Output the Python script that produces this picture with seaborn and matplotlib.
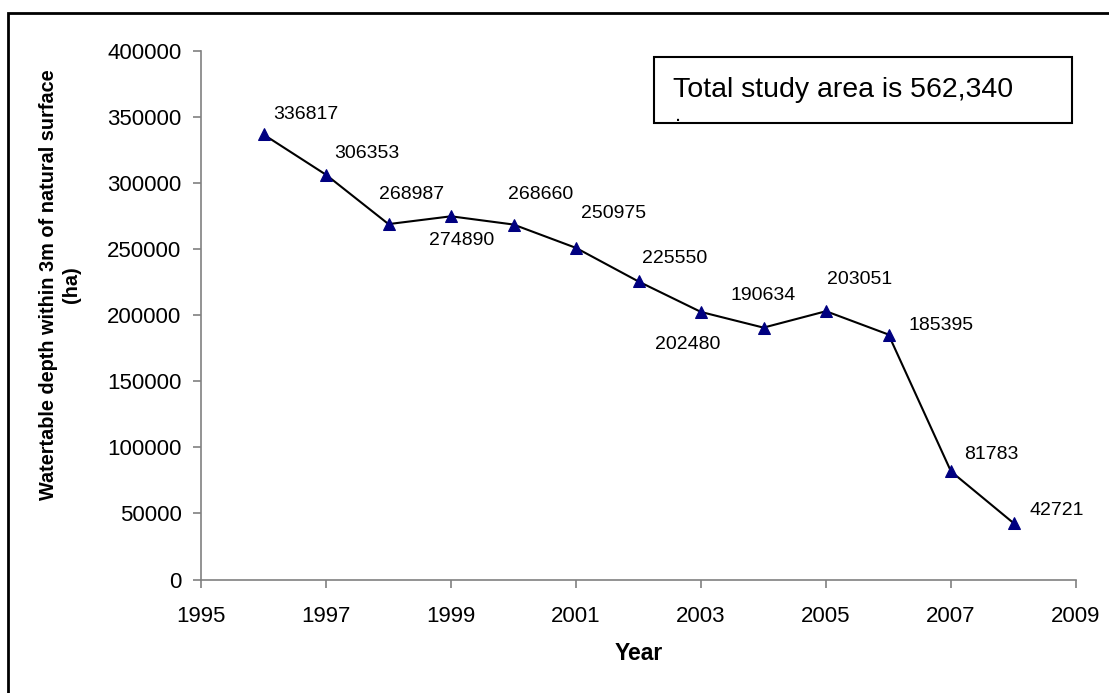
import matplotlib
matplotlib.use("Agg")
import matplotlib.pyplot as plt
import matplotlib.patches as patches
import pandas as pd
import seaborn as sns

# chart values
years = [1996, 1997, 1998, 1999, 2000, 2001, 2002, 2003, 2004, 2005, 2006, 2007, 2008]
area_ha = [336817, 306353, 268987, 274890, 268660, 250975, 225550,
           202480, 190634, 203051, 185395, 81783, 42721]
x_ticks = [1995, 1997, 1999, 2001, 2003, 2005, 2007, 2009]
y_ticks = [0, 50000, 100000, 150000, 200000, 250000, 300000, 350000, 400000]
note_text = "Total study area is 562,340"

# label offsets from each point, in pixels (right, down) to the label centre
label_offsets = [(42, -22), (41, -24), (23, -32), (11, 22), (27, -33), (38, -37),
                 (36, -25), (-13, 30), (0, -35), (34, -34), (53, -12), (40, -19), (43, -15)]

W, H = 1109, 693

sns.set_style("white")
plt.rcParams['font.family'] = ['Liberation Sans', 'DejaVu Sans']
plt.rcParams['text.color'] = 'black'
plt.rcParams['axes.labelcolor'] = 'black'
plt.rcParams['xtick.labelcolor'] = 'black'
plt.rcParams['ytick.labelcolor'] = 'black'

df = pd.DataFrame({'year': years, 'area': area_ha})

fig = plt.figure(figsize=(W / 100, H / 100), dpi=100)
# axes box in pixels: left 201, right 1076, top 51, bottom 579.5
ax = fig.add_axes([201 / W, 1 - 579.5 / H, (1076 - 201) / W, (579.5 - 51) / H])

sns.lineplot(data=df, x='year', y='area', ax=ax, color='black', linewidth=1.5,
             marker='^', markersize=9, markerfacecolor='#000080',
             markeredgecolor='#000080')

ax.set_xlim(1995, 2009)
ax.set_ylim(0, 400000)
ax.set_xticks(x_ticks)
ax.set_yticks(y_ticks)
ax.set_xticklabels([str(t) for t in x_ticks])
ax.set_yticklabels([str(t) for t in y_ticks])

for side in ['top', 'right']:
    ax.spines[side].set_visible(False)
for side in ['left', 'bottom']:
    ax.spines[side].set_color('#808080')
    ax.spines[side].set_linewidth(1.2)

ax.tick_params(axis='y', direction='out', length=6, width=1.2, color='#808080',
               labelcolor='black', pad=8, labelsize=16, left=True)
ax.tick_params(axis='x', direction='out', length=6, width=1.2, color='#808080',
               labelcolor='black', pad=13, labelsize=16, bottom=True)

ax.set_xlabel('Year', fontsize=16.5, fontweight='bold', color='black')
ax.xaxis.set_label_coords(0.5, -0.119)
ax.set_ylabel('')

# value labels next to each point
for (yr, val), (dx, dy) in zip(zip(years, area_ha), label_offsets):
    ax.annotate(str(val), (yr, val), xytext=(dx, -(dy + 7)), textcoords='offset pixels',
                ha='center', va='baseline', fontsize=14, color='black')

# y label as figure text (two lines)
fig.text(60 / W, 1 - 285 / H, 'Watertable depth within 3m of natural surface\n(ha)',
         rotation=90, ha='center', va='center', multialignment='center',
         fontsize=14.3, fontweight='bold', linespacing=1.3, color='black')

# note box
fig.patches.append(patches.Rectangle((654 / W, 1 - 123 / H), (1072 - 654) / W, (123 - 57) / H,
                                     transform=fig.transFigure, facecolor='white',
                                     edgecolor='black', linewidth=1.5, zorder=5))
fig.text(673 / W, 1 - 97 / H, note_text, fontsize=20.5, ha='left', va='baseline',
         color='black', zorder=6)
fig.text(675 / W, 1 - 121 / H, '.', fontsize=16, ha='left', va='baseline',
         color='black', zorder=6)

# outer chart border (right and bottom edges fall outside the image)
fig.patches.append(patches.Rectangle((8 / W, -0.1), 1.2, 1.1 - 13 / H,
                                     transform=fig.transFigure, facecolor='none',
                                     edgecolor='black', linewidth=2))

fig.savefig('out.png', dpi=100)
